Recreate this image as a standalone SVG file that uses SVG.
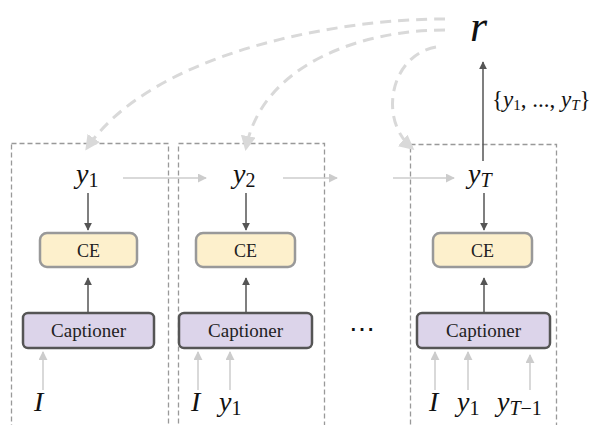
<svg xmlns="http://www.w3.org/2000/svg" width="596" height="425" viewBox="0 0 596 425">
<defs>
<marker id="ad" viewBox="0 0 10 10" refX="9" refY="5" markerWidth="8" markerHeight="8" markerUnits="userSpaceOnUse" orient="auto"><path d="M0,0 L10,5 L0,10 Z" fill="#555"/></marker>
<marker id="al" viewBox="0 0 10 10" refX="9" refY="5" markerWidth="9" markerHeight="9" markerUnits="userSpaceOnUse" orient="auto"><path d="M0,0 L10,5 L0,10 Z" fill="#ccc"/></marker>
<marker id="ac" viewBox="0 0 10 10" refX="8" refY="5" markerWidth="15" markerHeight="15" markerUnits="userSpaceOnUse" orient="auto"><path d="M0,0 L10,5 L0,10 Z" fill="#d9d9d9"/></marker>
</defs>
<style>
.frame{fill:none;stroke:#999;stroke-width:1.3;stroke-dasharray:5 3}
.ce{fill:#fdf0cc;stroke:#999;stroke-width:2.5}
.cap{fill:#dcd4ea;stroke:#555;stroke-width:2.5}
.m{fill:#111}
.it{font-style:italic}
.lbl{fill:#222;text-anchor:middle}
.dk{stroke:#555;stroke-width:1.5;fill:none}
.lt{stroke:#ccc;stroke-width:1.5;fill:none}
.cv{stroke:#d9d9d9;stroke-width:3;fill:none;stroke-dasharray:11 7}
</style>
<g font-family="Liberation Serif, DejaVu Serif, serif">
<g id="step1">
<rect class="frame" x="11.5" y="143.5" width="157" height="290"/>
<text class="m" x="76" y="183" font-size="28"><tspan class="it">y</tspan><tspan font-size="20" dy="4">1</tspan></text>
<rect class="ce" x="40" y="233" width="97" height="34" rx="7"/>
<text class="lbl" x="88.5" y="256.5" font-size="18">CE</text>
<rect class="cap" x="23" y="313" width="131" height="35" rx="5"/>
<text class="lbl" x="88.5" y="337" font-size="19">Captioner</text>
<text class="m it" x="34" y="411" font-size="28">I</text>
</g>
<g id="step2">
<rect class="frame" x="178.5" y="143.5" width="146" height="290"/>
<text class="m" x="233" y="183" font-size="28"><tspan class="it">y</tspan><tspan font-size="20" dy="4">2</tspan></text>
<rect class="ce" x="196" y="233" width="99" height="34" rx="7"/>
<text class="lbl" x="245.5" y="256.5" font-size="18">CE</text>
<rect class="cap" x="179" y="313" width="133" height="35" rx="5"/>
<text class="lbl" x="245.5" y="337" font-size="19">Captioner</text>
<text class="m it" x="191" y="411" font-size="28">I</text>
<text class="m" x="219" y="411" font-size="28"><tspan class="it">y</tspan><tspan font-size="20" dy="4">1</tspan></text>
</g>
<g id="stepT">
<rect class="frame" x="410.5" y="144.5" width="146" height="290"/>
<text class="m" x="468" y="183" font-size="28"><tspan class="it">y</tspan><tspan class="it" font-size="20" dy="4">T</tspan></text>
<rect class="ce" x="433" y="233" width="99" height="34" rx="7"/>
<text class="lbl" x="482.5" y="256.5" font-size="18">CE</text>
<rect class="cap" x="417" y="313" width="133" height="35" rx="5"/>
<text class="lbl" x="483.5" y="337" font-size="19">Captioner</text>
<text class="m it" x="429" y="411" font-size="28">I</text>
<text class="m" x="457" y="411" font-size="28"><tspan class="it">y</tspan><tspan font-size="20" dy="4">1</tspan></text>
<text class="m" x="497" y="411" font-size="28"><tspan class="it">y</tspan><tspan font-size="20" dy="4"><tspan class="it">T</tspan>−1</tspan></text>
</g>
<g id="dots">
<text class="m" x="362" y="338" font-size="26" text-anchor="middle">⋯</text>
</g>
<g id="reward">
<text class="m it" x="470" y="41" font-size="44">r</text>
<text class="m" x="492" y="107" font-size="23">{<tspan class="it">y</tspan><tspan font-size="15" dy="3">1</tspan><tspan dy="-3">, ..., </tspan><tspan class="it">y</tspan><tspan class="it" font-size="15" dy="3">T</tspan><tspan dy="-3">}</tspan></text>
</g>
</g>
<g id="connectors">
<line class="dk" x1="88" y1="193" x2="88" y2="230" marker-end="url(#ad)"/>
<line class="dk" x1="88" y1="313" x2="88" y2="278" marker-end="url(#ad)"/>
<line class="dk" x1="246" y1="193" x2="246" y2="230" marker-end="url(#ad)"/>
<line class="dk" x1="246" y1="313" x2="246" y2="278" marker-end="url(#ad)"/>
<line class="dk" x1="484" y1="193" x2="484" y2="230" marker-end="url(#ad)"/>
<line class="dk" x1="484" y1="313" x2="484" y2="278" marker-end="url(#ad)"/>
<line class="dk" x1="483" y1="161" x2="483" y2="62" marker-end="url(#ad)"/>
<line class="lt" x1="123" y1="178" x2="206" y2="178" marker-end="url(#al)"/>
<line class="lt" x1="283" y1="178" x2="337" y2="178" marker-end="url(#al)"/>
<line class="lt" x1="393" y1="178" x2="454" y2="178" marker-end="url(#al)"/>
<line class="lt" x1="43" y1="390" x2="43" y2="352" marker-end="url(#al)"/>
<line class="lt" x1="198" y1="390" x2="198" y2="352" marker-end="url(#al)"/>
<line class="lt" x1="230" y1="390" x2="230" y2="352" marker-end="url(#al)"/>
<line class="lt" x1="435" y1="390" x2="435" y2="352" marker-end="url(#al)"/>
<line class="lt" x1="468" y1="390" x2="468" y2="352" marker-end="url(#al)"/>
<line class="lt" x1="530" y1="390" x2="530" y2="355" marker-end="url(#al)"/>
<path class="cv" d="M445,19 C330,19 150,55 87,148" marker-end="url(#ac)"/>
<path class="cv" d="M445,30 C360,30 262,65 246,148" marker-end="url(#ac)"/>
<path class="cv" d="M436,47 C390,55 378,120 412,148" marker-end="url(#ac)"/>
</g>
</svg>
